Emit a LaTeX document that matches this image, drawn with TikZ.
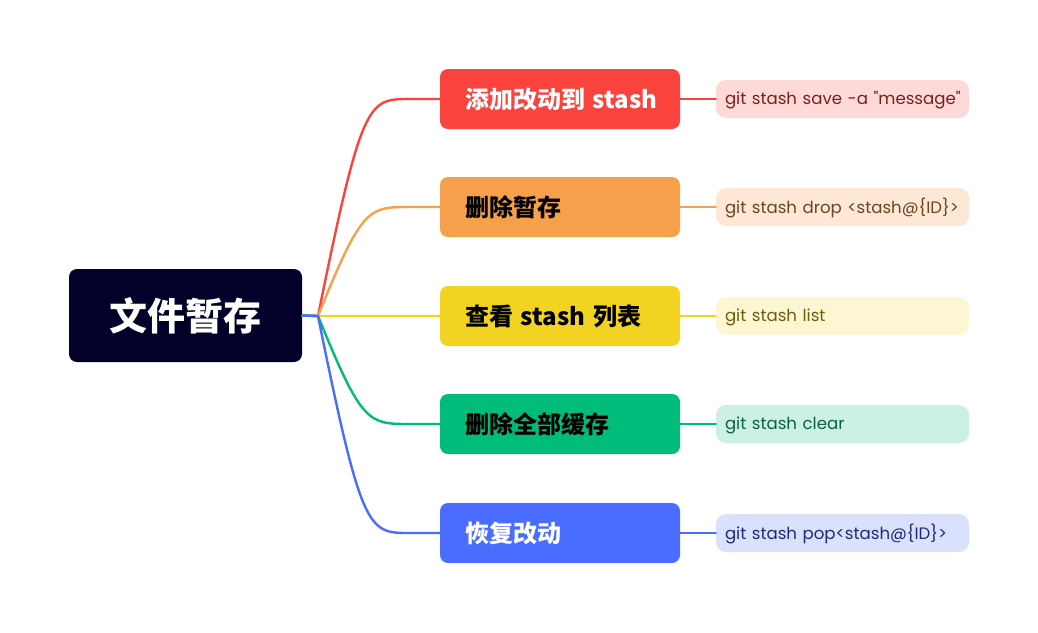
\documentclass[tikz,border=0pt]{standalone}
\usepackage{fontspec}
\setmainfont{Noto Sans CJK SC}
\newfontfamily\leaffont{Poppins}
\definecolor{cRoot}{HTML}{02012A}
\definecolor{cRed}{HTML}{FB433E}
\definecolor{cOrange}{HTML}{F7A04B}
\definecolor{cYellow}{HTML}{F3D322}
\definecolor{cGreen}{HTML}{00BC7A}
\definecolor{cBlue}{HTML}{4A6CFF}
\definecolor{lRed}{HTML}{FFD9D8}
\definecolor{lOrange}{HTML}{FDE8D6}
\definecolor{lYellow}{HTML}{FDF6D3}
\definecolor{lGreen}{HTML}{CCF1E4}
\definecolor{lBlue}{HTML}{DAE1FD}
\definecolor{tRed}{HTML}{7A1F1D}
\definecolor{tOrange}{HTML}{6B4520}
\definecolor{tYellow}{HTML}{6B5E10}
\definecolor{tGreen}{HTML}{0A6040}
\definecolor{tBlue}{HTML}{1E2A7A}
\begin{document}
\begin{tikzpicture}[x=1pt,y=-1pt,
  rootbox/.style={fill=cRoot, rounded corners=8pt, minimum width=233pt, minimum height=93pt,
    inner sep=0pt, text=white, font=\fontsize{38}{40}\selectfont\bfseries},
  branchbox/.style={rounded corners=8pt, minimum height=60pt, text width=190pt, inner xsep=25pt,
    inner ysep=0pt, align=left, font=\fontsize{24}{28}\selectfont\bfseries},
  leafbox/.style={rounded corners=10pt, minimum height=38pt, text width=235pt, inner xsep=9pt,
    inner ysep=0pt, align=left, text depth=2pt, font=\leaffont\fontsize{16.6}{20}\selectfont},
  conn/.style={line width=2.4pt, line cap=round}]
\useasboundingbox (0,0) rectangle (1038,632);
\node[rootbox] (root) at (185.5,315.5) {文件暂存};
\coordinate (j) at (318,316);

\node[branchbox, fill=cRed, text=white] (b1) at (560,99) {\mbox{添加改动到 stash}};
\node[branchbox, fill=cOrange, text=black] (b2) at (560,207) {\mbox{删除暂存}};
\node[branchbox, fill=cYellow, text=black] (b3) at (560,316) {\mbox{查看 stash 列表}};
\node[branchbox, fill=cGreen, text=black] (b4) at (560,424) {\mbox{删除全部缓存}};
\node[branchbox, fill=cBlue, text=white] (b5) at (560,533) {\mbox{恢复改动}};

\node[leafbox, fill=lRed, text=tRed] (l1) at (842.5,99) {\mbox{git stash save -a "message"}};
\node[leafbox, fill=lOrange, text=tOrange] (l2) at (842.5,207) {\mbox{git stash drop <stash@\{ID\}>}};
\node[leafbox, fill=lYellow, text=tYellow] (l3) at (842.5,316) {\mbox{git stash list}};
\node[leafbox, fill=lGreen, text=tGreen] (l4) at (842.5,424) {\mbox{git stash clear}};
\node[leafbox, fill=lBlue, text=tBlue] (l5) at (842.5,533) {\mbox{git stash pop<stash@\{ID\}>}};

\foreach \i/\c in {1/cRed,2/cOrange,3/cYellow,4/cGreen,5/cBlue}{
  \draw[conn, \c] (root.east) -- (j) .. controls (362,0|-b\i.west) and (368,0|-b\i.west) .. (410,0|-b\i.west) -- (b\i.west);
  \draw[conn, \c] (b\i.east) -- (l\i.west);
}
\end{tikzpicture}
\end{document}
